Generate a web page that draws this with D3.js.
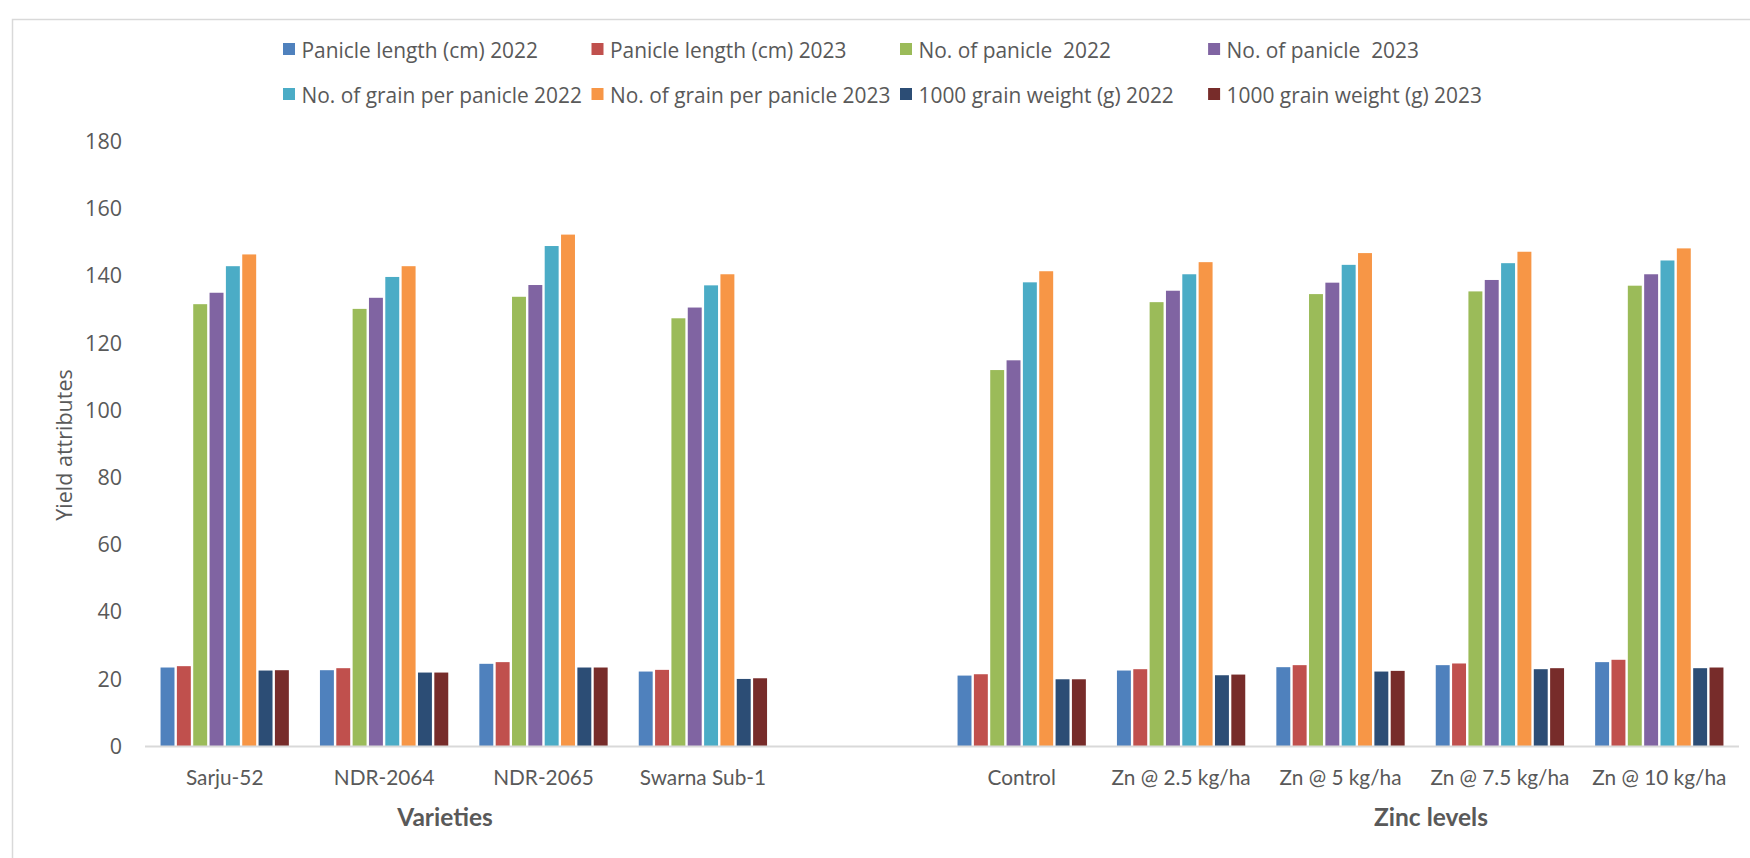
<!DOCTYPE html>
<html>
<head>
<meta charset="utf-8">
<script src="https://cdn.jsdelivr.net/npm/d3@7"></script>
<style>
  html, body { margin: 0; padding: 0; background: #fff; }
  svg { display: block; }
</style>
</head>
<body>
<svg id="chart" width="1750" height="858"></svg>
<script>
// ---------- data ----------
const categories = ["Sarju-52", "NDR-2064", "NDR-2065", "Swarna Sub-1", "", "Control",
  "Zn @ 2.5 kg/ha", "Zn @ 5 kg/ha", "Zn @ 7.5 kg/ha", "Zn @ 10 kg/ha"];
const seriesNames = ["Panicle length (cm) 2022", "Panicle length (cm) 2023",
  "No. of panicle  2022", "No. of panicle  2023",
  "No. of grain per panicle 2022", "No. of grain per panicle 2023",
  "1000 grain weight (g) 2022", "1000 grain weight (g) 2023"];
const panicleLength2022 = [23.5, 22.7, 24.6, 22.3, null, 21.1, 22.6, 23.6, 24.2, 25.1];
const panicleLength2023 = [23.9, 23.3, 25.1, 22.8, null, 21.5, 23.0, 24.2, 24.7, 25.8];
const noPanicle2022     = [131.6, 130.2, 133.8, 127.4, null, 112.0, 132.2, 134.6, 135.4, 137.1];
const noPanicle2023     = [135.0, 133.5, 137.3, 130.6, null, 114.9, 135.6, 138.0, 138.8, 140.5];
const grainPerPanicle2022 = [142.9, 139.7, 148.9, 137.2, null, 138.1, 140.5, 143.3, 143.8, 144.6];
const grainPerPanicle2023 = [146.4, 142.9, 152.3, 140.5, null, 141.4, 144.1, 146.8, 147.2, 148.2];
const grainWeight2022   = [22.6, 22.0, 23.5, 20.1, null, 20.0, 21.2, 22.3, 23.0, 23.3];
const grainWeight2023   = [22.7, 22.0, 23.5, 20.3, null, 20.0, 21.4, 22.5, 23.3, 23.5];
const seriesValues = [panicleLength2022, panicleLength2023, noPanicle2022, noPanicle2023,
  grainPerPanicle2022, grainPerPanicle2023, grainWeight2022, grainWeight2023];
const colors = ["#4F81BD", "#C0504D", "#9BBB59", "#8064A2", "#4BACC6", "#F79646", "#2C4D75", "#772C2A"];
const yTicks = [0, 20, 40, 60, 80, 100, 120, 140, 160, 180];
const groupTitles = ["Varieties", "Zinc levels"];

// ---------- layout ----------
const svg = d3.select("#chart");
const textColor = "#595959";
const plotLeft = 145, plotRight = 1739, plotTop = 141.5, plotBottom = 746.5;

// outer border (chart area, cropped on right/bottom)
svg.append("rect")
  .attr("x", 12.5).attr("y", 19.5)
  .attr("width", 1800).attr("height", 900)
  .attr("fill", "none").attr("stroke", "#d9d9d9").attr("stroke-width", 1.5);

const x0 = d3.scaleBand().domain(d3.range(categories.length))
  .range([plotLeft, plotRight]).paddingInner(0).paddingOuter(0);
const x1 = d3.scaleBand().domain(d3.range(seriesNames.length))
  .range([0, x0.bandwidth()]).paddingInner(0).paddingOuter(0.878);
const y = d3.scaleLinear().domain([0, 180]).range([plotBottom, plotTop]);

// bars
const gBars = svg.append("g");
seriesValues.forEach((vals, si) => {
  gBars.selectAll(null)
    .data(vals.map((v, ci) => ({ v, ci })).filter(d => d.v != null))
    .enter().append("rect")
    .attr("x", d => x0(d.ci) + x1(si) + 1.2)
    .attr("width", x1.bandwidth() - 2.4)
    .attr("y", d => y(d.v))
    .attr("height", d => y(0) - y(d.v))
    .attr("fill", colors[si]);
});

// x axis line
svg.append("line")
  .attr("x1", plotLeft).attr("x2", plotRight)
  .attr("y1", y(0)).attr("y2", y(0))
  .attr("stroke", "#d9d9d9").attr("stroke-width", 2);

// y axis labels
const yAxis = d3.axisLeft(y).tickValues(yTicks).tickSize(0).tickPadding(0);
const gy = svg.append("g").attr("transform", "translate(122,0)").call(yAxis);
gy.select(".domain").remove();
gy.selectAll("text")
  .attr("font-family", "'Open Sans', sans-serif")
  .attr("font-size", 21.5)
  .attr("fill", textColor);

// category labels
const xAxis = d3.axisBottom(x0).tickFormat(i => categories[i]).tickSize(0).tickPadding(0);
const gx = svg.append("g").attr("transform", `translate(0,${plotBottom + 24})`).call(xAxis);
gx.select(".domain").remove();
gx.selectAll("text")
  .attr("font-family", "Lato, sans-serif")
  .attr("font-size", 20.8)
  .attr("fill", textColor);

// y axis title
svg.append("text")
  .attr("transform", "translate(72,445) rotate(-90)")
  .attr("text-anchor", "middle")
  .attr("font-family", "'Open Sans', sans-serif")
  .attr("font-size", 21.5)
  .attr("fill", textColor)
  .text("Yield attributes");

// group titles
const titlePos = [445, 1431];
groupTitles.forEach((t, i) => {
  svg.append("text")
    .attr("x", titlePos[i]).attr("y", 825.5)
    .attr("text-anchor", "middle")
    .attr("font-family", "Lato, sans-serif")
    .attr("font-weight", "bold")
    .attr("font-size", 24.5)
    .attr("fill", textColor)
    .text(t);
});

// legend
const legendCols = [301.5, 610, 918.5, 1226.6];
const legendRows = [50, 95];
seriesNames.forEach((name, i) => {
  const tx = legendCols[i % 4], cy = legendRows[Math.floor(i / 4)];
  svg.append("rect")
    .attr("x", tx - 18.5).attr("y", cy - 7)
    .attr("width", 12).attr("height", 12)
    .attr("fill", colors[i]);
  svg.append("text")
    .attr("x", tx).attr("y", cy)
    .attr("dy", "0.36em")
    .attr("font-family", "'Open Sans', sans-serif")
    .attr("font-size", 20.9)
    .attr("fill", textColor)
    .style("white-space", "pre")
    .text(name);
});
</script>
</body>
</html>
